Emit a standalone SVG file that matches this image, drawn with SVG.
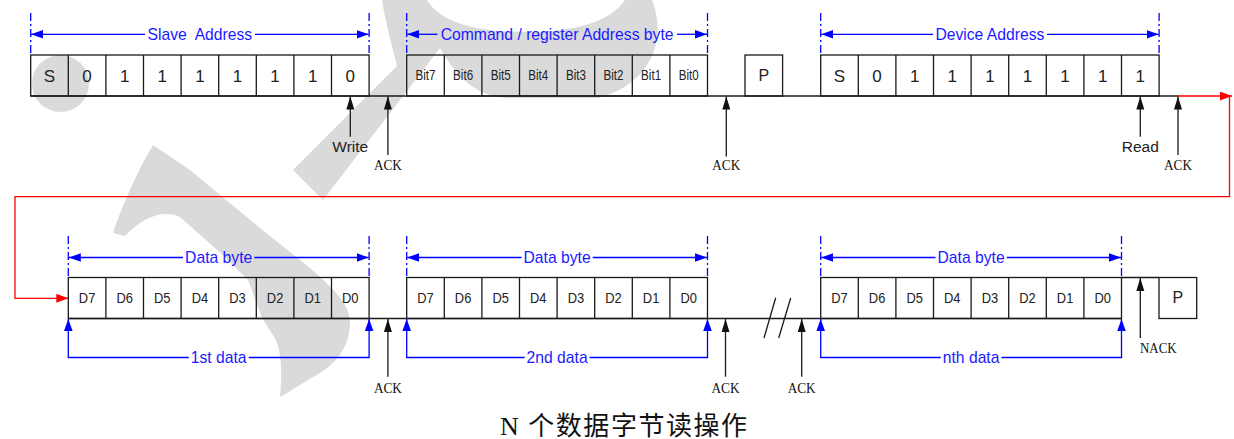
<svg xmlns="http://www.w3.org/2000/svg" width="1234" height="439" viewBox="0 0 1234 439">
<defs>
<style>
.bx{fill:none;stroke:#1a1a1a;stroke-width:1.3}
.ln{fill:none;stroke:#1a1a1a;stroke-width:1.3}
.bl{fill:none;stroke:#0000ff;stroke-width:1.3}
.dash{fill:none;stroke:#0000ff;stroke-width:1.3;stroke-dasharray:8 3 2 3}
.rd{fill:none;stroke:#ff0000;stroke-width:1.3}
.num{font-family:"Liberation Sans",Arial,sans-serif;font-size:17px;fill:#222;text-anchor:middle}
.bit{font-family:"Liberation Sans",Arial,sans-serif;font-size:14.5px;fill:#222;text-anchor:middle}
.lab{font-family:"Liberation Sans",Arial,sans-serif;font-size:15.7px;fill:#1a1aff;text-anchor:middle}
.wr{font-family:"Liberation Sans",Arial,sans-serif;font-size:15.5px;fill:#222;text-anchor:middle}
.ack{font-family:"Liberation Serif","Times New Roman",serif;font-size:15px;fill:#111;text-anchor:middle}
.wm{fill:#dadada;stroke:none}
.ttl{font-family:"Liberation Serif","Noto Sans CJK SC",serif;font-size:26px;fill:#111}
</style>
<marker id="ab" markerUnits="userSpaceOnUse" markerWidth="13" markerHeight="9" refX="12" refY="4.3" orient="auto-start-reverse"><path d="M0,0 L12,4.3 L0,8.6 z" fill="#0000ff"/></marker>
<marker id="ak" markerUnits="userSpaceOnUse" markerWidth="14" markerHeight="9" refX="13" refY="4" orient="auto-start-reverse"><path d="M0,0 L13,4 L0,8 z" fill="#111"/></marker>
<marker id="ar" markerUnits="userSpaceOnUse" markerWidth="13" markerHeight="10" refX="12" refY="4.5" orient="auto"><path d="M0,0 L12,4.5 L0,9 z" fill="#ff0000"/></marker>
</defs>
<rect width="1234" height="439" fill="#ffffff"/>
<g id="watermark">
<circle class="wm" cx="60.5" cy="83.5" r="28.5"/>
<path class="wm" d="M293,170 L397,66 C392,45 385,20 382,0 L427,0 C440,22 475,32 525,32 C575,32 610,22 625,0 L652,0 C668,40 650,85 598,98 L510,98 C478,97 458,80 440,48 L323,200 Z"/>
<path class="wm" d="M153,145 L190,170 L260,228 L310,268 C335,290 350,305 350,322 C350,345 338,362 320,373 L280,397 C282,375 282,355 276,340 L262,318 L248,280 L225,257 L180,217 C165,210 145,215 125,236 L113,233 C122,205 138,170 153,145 Z"/>
</g>
<g id="connectors">
<path class="ln" d="M30.7,96 H1178"/>
<path class="ln" d="M68.3,318.5 H1121.5 M1121.5,277.5 H1159"/>
<path class="ln" d="M764,338 L775.7,297.7 M778.7,338 L790.7,298"/>
<path class="rd" d="M1178,96 H1232" marker-end="url(#ar)"/>
<path class="rd" d="M1229.5,97 V196.7 H15 V298.3 H68.3" marker-end="url(#ar)"/>
<line class="ln" x1="350.3" y1="136.7" x2="350.3" y2="96.5" marker-end="url(#ak)"/>
<line class="ln" x1="387.9" y1="155" x2="387.9" y2="96.5" marker-end="url(#ak)"/>
<line class="ln" x1="726.3" y1="156.5" x2="726.3" y2="96.5" marker-end="url(#ak)"/>
<line class="ln" x1="1140.3" y1="136.7" x2="1140.3" y2="96.5" marker-end="url(#ak)"/>
<line class="ln" x1="1178" y1="155" x2="1178" y2="96.5" marker-end="url(#ak)"/>
<line class="ln" x1="387.9" y1="376.7" x2="387.9" y2="319" marker-end="url(#ak)"/>
<line class="ln" x1="725.5" y1="376.7" x2="725.5" y2="319" marker-end="url(#ak)"/>
<line class="ln" x1="801.7" y1="376.7" x2="801.7" y2="319" marker-end="url(#ak)"/>
<line class="ln" x1="1140.3" y1="338" x2="1140.3" y2="278" marker-end="url(#ak)"/>
</g>
<g id="dimensions">
<path class="dash" d="M30.7,13 V55 M369.1,13 V55 M406.7,13 V55 M707.5,13 V55 M820.7,13 V55 M1159.1,13 V55"/>
<path class="dash" d="M68.3,236 V277.5 M369.1,236 V277.5 M406.7,236 V277.5 M707.5,236 V277.5 M820.7,236 V277.5 M1121.5,236 V277.5"/>
<path class="bl" d="M145,34.3 H31" marker-end="url(#ab)"/><path class="bl" d="M255,34.3 H368.6" marker-end="url(#ab)"/>
<path class="bl" d="M437.5,34.3 H407.2" marker-end="url(#ab)"/><path class="bl" d="M677,34.3 H707" marker-end="url(#ab)"/>
<path class="bl" d="M933,34.3 H821.2" marker-end="url(#ab)"/><path class="bl" d="M1047,34.3 H1158.6" marker-end="url(#ab)"/>
<path class="bl" d="M183,257.5 H68.8" marker-end="url(#ab)"/><path class="bl" d="M254.3,257.5 H368.6" marker-end="url(#ab)"/>
<path class="bl" d="M521.5,257.5 H407.2" marker-end="url(#ab)"/><path class="bl" d="M592.7,257.5 H707" marker-end="url(#ab)"/>
<path class="bl" d="M935.5,257.5 H821.2" marker-end="url(#ab)"/><path class="bl" d="M1006.7,257.5 H1121" marker-end="url(#ab)"/>
<path class="bl" d="M188.7,357.5 H68.3 V319" marker-end="url(#ab)"/><path class="bl" d="M248.7,357.5 H369.1 V319" marker-end="url(#ab)"/>
<path class="bl" d="M524.6,357.5 H406.7 V319" marker-end="url(#ab)"/><path class="bl" d="M589.6,357.5 H707.5 V319" marker-end="url(#ab)"/>
<path class="bl" d="M940.7,357.5 H820.7 V319" marker-end="url(#ab)"/><path class="bl" d="M1001.5,357.5 H1121.5 V319" marker-end="url(#ab)"/>
<text class="lab" x="199.9" y="40" xml:space="preserve">Slave  Address</text>
<text class="lab" x="557.1" y="40">Command / register Address byte</text>
<text class="lab" x="989.9" y="40">Device Address</text>
<text class="lab" x="218.7" y="263">Data byte</text>
<text class="lab" x="557.1" y="263">Data byte</text>
<text class="lab" x="971.1" y="263">Data byte</text>
<text class="lab" x="218.7" y="363">1st data</text>
<text class="lab" x="557.1" y="363">2nd data</text>
<text class="lab" x="971.1" y="363">nth data</text>
</g>
<g id="slave-address">
<rect class="bx" x="30.7" y="55" width="338.4" height="41"/>
<path class="bx" d="M68.3,55V96M105.9,55V96M143.5,55V96M181.1,55V96M218.7,55V96M256.3,55V96M293.9,55V96M331.5,55V96"/>
<text class="num" x="49.5" y="81.5">S</text><text class="num" x="87.1" y="81.5">0</text><text class="num" x="124.7" y="81.5">1</text><text class="num" x="162.3" y="81.5">1</text><text class="num" x="199.9" y="81.5">1</text><text class="num" x="237.5" y="81.5">1</text><text class="num" x="275.1" y="81.5">1</text><text class="num" x="312.7" y="81.5">1</text><text class="num" x="350.3" y="81.5">0</text>
</g>
<g id="command-byte">
<rect class="bx" x="406.7" y="55" width="300.8" height="41"/>
<path class="bx" d="M444.3,55V96M481.9,55V96M519.5,55V96M557.1,55V96M594.7,55V96M632.3,55V96M669.9,55V96"/>
<text class="bit" x="425.5" y="80" textLength="20" lengthAdjust="spacingAndGlyphs">Bit7</text><text class="bit" x="463.1" y="80" textLength="20" lengthAdjust="spacingAndGlyphs">Bit6</text><text class="bit" x="500.7" y="80" textLength="20" lengthAdjust="spacingAndGlyphs">Bit5</text><text class="bit" x="538.3" y="80" textLength="20" lengthAdjust="spacingAndGlyphs">Bit4</text><text class="bit" x="575.9" y="80" textLength="20" lengthAdjust="spacingAndGlyphs">Bit3</text><text class="bit" x="613.5" y="80" textLength="20" lengthAdjust="spacingAndGlyphs">Bit2</text><text class="bit" x="651.1" y="80" textLength="20" lengthAdjust="spacingAndGlyphs">Bit1</text><text class="bit" x="688.7" y="80" textLength="20" lengthAdjust="spacingAndGlyphs">Bit0</text>
</g>
<g id="stop-1">
<rect class="bx" x="745" y="55" width="37.6" height="41"/>
<text class="num" x="763.8" y="80.5" style="font-size:16px">P</text>
</g>
<g id="device-address">
<rect class="bx" x="820.7" y="55" width="338.4" height="41"/>
<path class="bx" d="M858.3,55V96M895.9,55V96M933.5,55V96M971.1,55V96M1008.7,55V96M1046.3,55V96M1083.9,55V96M1121.5,55V96"/>
<text class="num" x="839.5" y="81.5">S</text><text class="num" x="877.1" y="81.5">0</text><text class="num" x="914.7" y="81.5">1</text><text class="num" x="952.3" y="81.5">1</text><text class="num" x="989.9" y="81.5">1</text><text class="num" x="1027.5" y="81.5">1</text><text class="num" x="1065.1" y="81.5">1</text><text class="num" x="1102.7" y="81.5">1</text><text class="num" x="1140.3" y="81.5">1</text>
</g>
<g id="data-1">
<rect class="bx" x="68.3" y="277.5" width="300.8" height="41"/>
<path class="bx" d="M105.9,277.5V318.5M143.5,277.5V318.5M181.1,277.5V318.5M218.7,277.5V318.5M256.3,277.5V318.5M293.9,277.5V318.5M331.5,277.5V318.5"/>
<text class="bit" x="87.1" y="303" textLength="16.5" lengthAdjust="spacingAndGlyphs">D7</text><text class="bit" x="124.7" y="303" textLength="16.5" lengthAdjust="spacingAndGlyphs">D6</text><text class="bit" x="162.3" y="303" textLength="16.5" lengthAdjust="spacingAndGlyphs">D5</text><text class="bit" x="199.9" y="303" textLength="16.5" lengthAdjust="spacingAndGlyphs">D4</text><text class="bit" x="237.5" y="303" textLength="16.5" lengthAdjust="spacingAndGlyphs">D3</text><text class="bit" x="275.1" y="303" textLength="16.5" lengthAdjust="spacingAndGlyphs">D2</text><text class="bit" x="312.7" y="303" textLength="16.5" lengthAdjust="spacingAndGlyphs">D1</text><text class="bit" x="350.3" y="303" textLength="16.5" lengthAdjust="spacingAndGlyphs">D0</text>
</g>
<g id="data-2">
<rect class="bx" x="406.7" y="277.5" width="300.8" height="41"/>
<path class="bx" d="M444.3,277.5V318.5M481.9,277.5V318.5M519.5,277.5V318.5M557.1,277.5V318.5M594.7,277.5V318.5M632.3,277.5V318.5M669.9,277.5V318.5"/>
<text class="bit" x="425.5" y="303" textLength="16.5" lengthAdjust="spacingAndGlyphs">D7</text><text class="bit" x="463.1" y="303" textLength="16.5" lengthAdjust="spacingAndGlyphs">D6</text><text class="bit" x="500.7" y="303" textLength="16.5" lengthAdjust="spacingAndGlyphs">D5</text><text class="bit" x="538.3" y="303" textLength="16.5" lengthAdjust="spacingAndGlyphs">D4</text><text class="bit" x="575.9" y="303" textLength="16.5" lengthAdjust="spacingAndGlyphs">D3</text><text class="bit" x="613.5" y="303" textLength="16.5" lengthAdjust="spacingAndGlyphs">D2</text><text class="bit" x="651.1" y="303" textLength="16.5" lengthAdjust="spacingAndGlyphs">D1</text><text class="bit" x="688.7" y="303" textLength="16.5" lengthAdjust="spacingAndGlyphs">D0</text>
</g>
<g id="data-n">
<rect class="bx" x="820.7" y="277.5" width="300.8" height="41"/>
<path class="bx" d="M858.3,277.5V318.5M895.9,277.5V318.5M933.5,277.5V318.5M971.1,277.5V318.5M1008.7,277.5V318.5M1046.3,277.5V318.5M1083.9,277.5V318.5"/>
<text class="bit" x="839.5" y="303" textLength="16.5" lengthAdjust="spacingAndGlyphs">D7</text><text class="bit" x="877.1" y="303" textLength="16.5" lengthAdjust="spacingAndGlyphs">D6</text><text class="bit" x="914.7" y="303" textLength="16.5" lengthAdjust="spacingAndGlyphs">D5</text><text class="bit" x="952.3" y="303" textLength="16.5" lengthAdjust="spacingAndGlyphs">D4</text><text class="bit" x="989.9" y="303" textLength="16.5" lengthAdjust="spacingAndGlyphs">D3</text><text class="bit" x="1027.5" y="303" textLength="16.5" lengthAdjust="spacingAndGlyphs">D2</text><text class="bit" x="1065.1" y="303" textLength="16.5" lengthAdjust="spacingAndGlyphs">D1</text><text class="bit" x="1102.7" y="303" textLength="16.5" lengthAdjust="spacingAndGlyphs">D0</text>
</g>
<g id="stop-2">
<rect class="bx" x="1159" y="277.5" width="37.7" height="41"/>
<text class="num" x="1177.9" y="303" style="font-size:16px">P</text>
</g>
<g id="labels">
<text class="wr" x="350.3" y="151.5">Write</text>
<text class="wr" x="1140.3" y="151.5">Read</text>
<text class="ack" x="387.9" y="170" textLength="28" lengthAdjust="spacingAndGlyphs">ACK</text>
<text class="ack" x="726.3" y="170" textLength="28" lengthAdjust="spacingAndGlyphs">ACK</text>
<text class="ack" x="1178" y="170" textLength="28" lengthAdjust="spacingAndGlyphs">ACK</text>
<text class="ack" x="387.9" y="392.5" textLength="28" lengthAdjust="spacingAndGlyphs">ACK</text>
<text class="ack" x="725.5" y="392.5" textLength="28" lengthAdjust="spacingAndGlyphs">ACK</text>
<text class="ack" x="801.7" y="392.5" textLength="28" lengthAdjust="spacingAndGlyphs">ACK</text>
<text class="ack" x="1158.3" y="352.5" textLength="36.5" lengthAdjust="spacingAndGlyphs">NACK</text>
<text class="ttl" x="500" y="434.5" textLength="247" lengthAdjust="spacing">N 个数据字节读操作</text>
</g>
</svg>
